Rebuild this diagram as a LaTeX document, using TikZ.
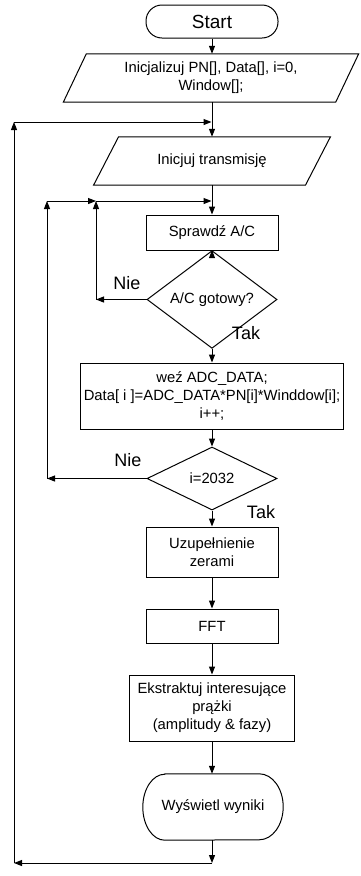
\documentclass[tikz,border=0pt]{standalone}
\usepackage{fontspec}
\setmainfont{Liberation Sans}
\usetikzlibrary{arrows.meta,shapes.geometric}
\begin{document}
\begin{tikzpicture}[x=1pt,y=-1pt,
  every node/.style={font=\fontsize{14.8}{18}\selectfont, align=center, inner sep=0pt},
  ln/.style={line width=1pt},
  proc/.style={draw, line width=1pt, rectangle},
  dec/.style={draw, line width=1pt, diamond},
  lab/.style={font=\fontsize{18}{20}\selectfont},
  arr/.style={line width=1pt, -{Triangle[length=8pt,width=6pt]}}]
\useasboundingbox (0,0) rectangle (360,876);

% nodes
\node[draw, line width=1pt, rounded corners=16pt, minimum width=132pt, minimum height=33pt,
      font=\fontsize{19}{22}\selectfont] (start) at (212,21.5) {Start};
\node[minimum width=272pt, minimum height=48pt] (init) at (211,78) {Inicjalizuj PN[], Data[], i=0,\\Window[];};
\node[minimum width=211.5pt, minimum height=48pt] (trans) at (212,161) {Inicjuj transmisję};
\node[proc, minimum width=132pt, minimum height=35pt] (check) at (212,232.5) {Sprawdź A/C};
\node[dec, minimum width=130pt, minimum height=65pt] (dec1) at (212,299.5) {A/C gotowy?};
\node[proc, minimum width=263pt, minimum height=66pt] (take) at (212,396) {weź ADC\_DATA;\\Data[ i ]=ADC\_DATA*PN[i]*Winddow[i];\\i++;};
\node[dec, minimum width=130pt, minimum height=63pt] (dec2) at (212,478.5) {i=2032};
\node[proc, minimum width=132pt, minimum height=50pt] (zero) at (212,552) {Uzupełnienie\\zerami};
\node[proc, minimum width=132pt, minimum height=34pt] (fft) at (212,626) {FFT};
\node[proc, minimum width=165pt, minimum height=66pt] (ext) at (212,708) {Ekstraktuj interesujące\\prążki\\(amplitudy \& fazy)};
\node[minimum width=140pt, minimum height=66pt] (disp) at (213,807) {Wyświetl wyniki};

% parallelogram outlines
\draw[ln] ([xshift=11.5pt]init.north west) -- ([xshift=11.5pt]init.north east)
  -- ([xshift=-11.5pt]init.south east) -- ([xshift=-11.5pt]init.south west) -- cycle;
\draw[ln] ([xshift=12.5pt]trans.north west) -- ([xshift=12.5pt]trans.north east)
  -- ([xshift=-12.5pt]trans.south east) -- ([xshift=-12.5pt]trans.south west) -- cycle;
% display outline
\draw[ln] ([xshift=22pt]disp.north west) -- ([xshift=-24pt]disp.north east)
  arc[start angle=90, end angle=-90, x radius=24pt, y radius=33pt]
  -- ([xshift=22pt]disp.south west)
  arc[start angle=270, end angle=90, x radius=22pt, y radius=33pt] -- cycle;

% labels
\node[lab] (nie1) at (127,283) {Nie};
\node[lab] (tak1) at (246,333) {Tak};
\node[lab] (nie2) at (128,460) {Nie};
\node[lab] (tak2) at (261,512) {Tak};

% junction coordinates
\coordinate (j0) at (212,122);
\coordinate (c0) at (14,122);
\coordinate (c1) at (14,863);
\coordinate (c2) at (212,863);
\coordinate (j1) at (212,201);
\coordinate (c3) at (96,201);
\coordinate (c4) at (47,201);
\coordinate (c5) at (96,299.5);
\coordinate (c6) at (47,478.5);

% main flow
\draw[arr] (start.south) -- (init.north -| start.south);
\draw[arr] (init.south -| trans.north) -- (trans.north);
\draw[arr] (trans.south) -- (check.north);
\draw[arr] (check.south) -- (dec1.north);
\draw[arr] (dec1.south) -- (take.north);
\draw[arr] (take.south) -- (dec2.north);
\draw[arr] (dec2.south) -- (zero.north);
\draw[arr] (zero.south) -- (fft.north);
\draw[arr] (fft.south) -- (ext.north);
\draw[arr] (ext.south) -- (disp.north -| ext.south);
\draw[arr] (disp.south -| c2) -- (c2);
% outer loop
\draw[arr] (c2) -- (c1);
\draw[arr] (c1) -- (c0);
\draw[arr] (c0) -- ([xshift=-0.5pt]j0);
% inner loops
\draw[arr] (dec1.west) -- (c5);
\draw[arr] (c5) -- (c3);
\draw[arr] (dec2.west) -- (c6);
\draw[arr] (c6) -- (c4);
\draw[arr] (c4) -- (c3);
\draw[arr] (c3) -- ([xshift=-0.5pt]j1);
\end{tikzpicture}
\end{document}
